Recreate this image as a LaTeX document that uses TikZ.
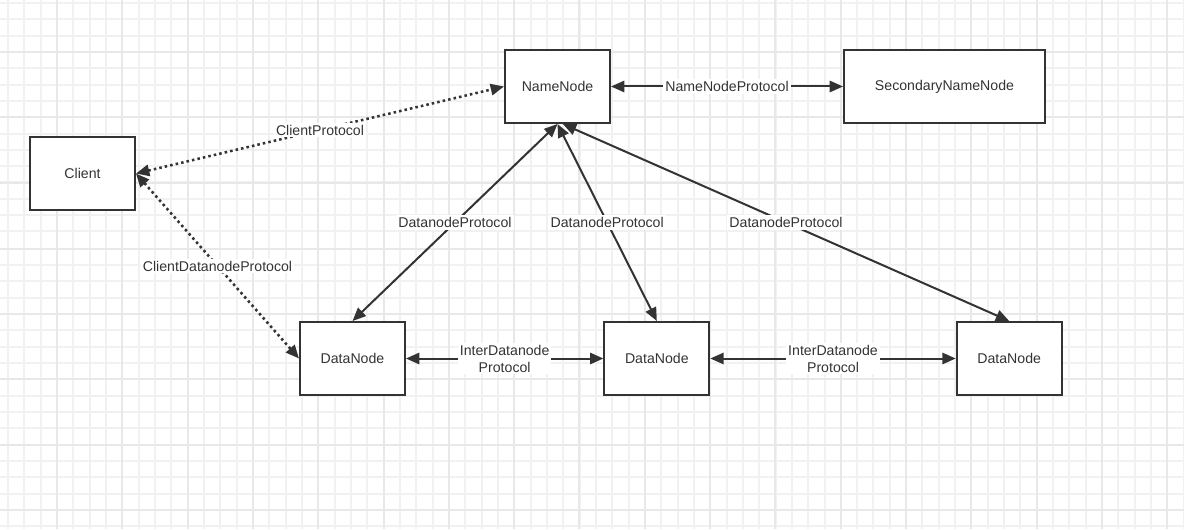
\documentclass[tikz,border=0pt]{standalone}
\usepackage{fontspec}
\setmainfont{Liberation Sans}
\usetikzlibrary{arrows.meta,positioning}

\definecolor{ink}{HTML}{333333}
\definecolor{gridfine}{HTML}{F1F1F1}
\definecolor{gridbold}{HTML}{E8E8E8}

\begin{document}
\begin{tikzpicture}[x=0.75pt,y=0.75pt,font=\fontsize{10.6}{12.7}\selectfont,
		>={Triangle[length=10pt,width=8.5pt]},
		box/.style={draw=ink, line width=1.5pt, fill=white, text=ink,
			minimum width=78.75pt, minimum height=54.75pt},
		link/.style={<->, draw=ink, line width=1.5pt},
		dotlink/.style={link, line width=1.9pt, dash pattern=on 1.9pt off 2.3pt},
		lbl/.style={fill=white, text=ink, inner sep=1.5pt, align=center},
		finegrid/.style={draw=gridfine, line width=1.5pt},
		boldgrid/.style={draw=gridbold, line width=1.5pt}]
	\useasboundingbox (0,0) rectangle (1184,529);
	\fill[white] (0,0) rectangle (1184,529);
	
	% background grid
	\foreach \i in {0,...,72} {
		\pgfmathsetmacro{\gx}{round(7+16.33*\i)+0.5}
		\draw[finegrid] (\gx,0) -- (\gx,529);
	}
	\foreach \i in {0,...,32} {
		\pgfmathsetmacro{\gy}{round(2.57+16.33*\i)+0.5}
		\draw[finegrid] (0,\gy) -- (1184,\gy);
	}
	\foreach \i in {0,...,17} {
		\pgfmathsetmacro{\gx}{round(56+65.3*\i)+0.5}
		\draw[boldgrid] (\gx,0) -- (\gx,529);
	}
	\foreach \i in {0,...,7} {
		\pgfmathsetmacro{\gy}{round(18.9+65.3*\i)+0.5}
		\draw[boldgrid] (0,\gy) -- (1184,\gy);
	}
	
	% nodes
	\node[box] (namenode) at (557.5,442.5) {NameNode};
	\node[box, minimum width=150.75pt, right=174pt of namenode] (secondary) {SecondaryNameNode};
	\node[box] (client) at (82.5,355.5) {Client};
	\node[box] (dn1) at (352.5,170.5) {DataNode};
	\node[box, right=148pt of dn1] (dn2) {DataNode};
	\node[box, right=184pt of dn2] (dn3) {DataNode};
	
	% protocols
	\draw[link] (namenode) -- node[lbl] {NameNodeProtocol} (secondary);
	\draw[dotlink] (client.east) -- node[lbl] {ClientProtocol} (namenode.west);
	\draw[dotlink] (client.east) -- node[lbl] {ClientDatanodeProtocol} (dn1.west);
	
	\draw[link] (namenode.south) -- node[lbl] {DatanodeProtocol} (dn1.north);
	\draw[link] (namenode.south) -- node[lbl] {DatanodeProtocol} (dn2.north);
	\draw[link] ([xshift=4pt]namenode.south) -- node[lbl] {DatanodeProtocol} (dn3.north);
	
	\draw[link] (dn1) -- node[lbl] {InterDatanode\\Protocol} (dn2);
	\draw[link] (dn2) -- node[lbl] {InterDatanode\\Protocol} (dn3);
\end{tikzpicture}
\end{document}
